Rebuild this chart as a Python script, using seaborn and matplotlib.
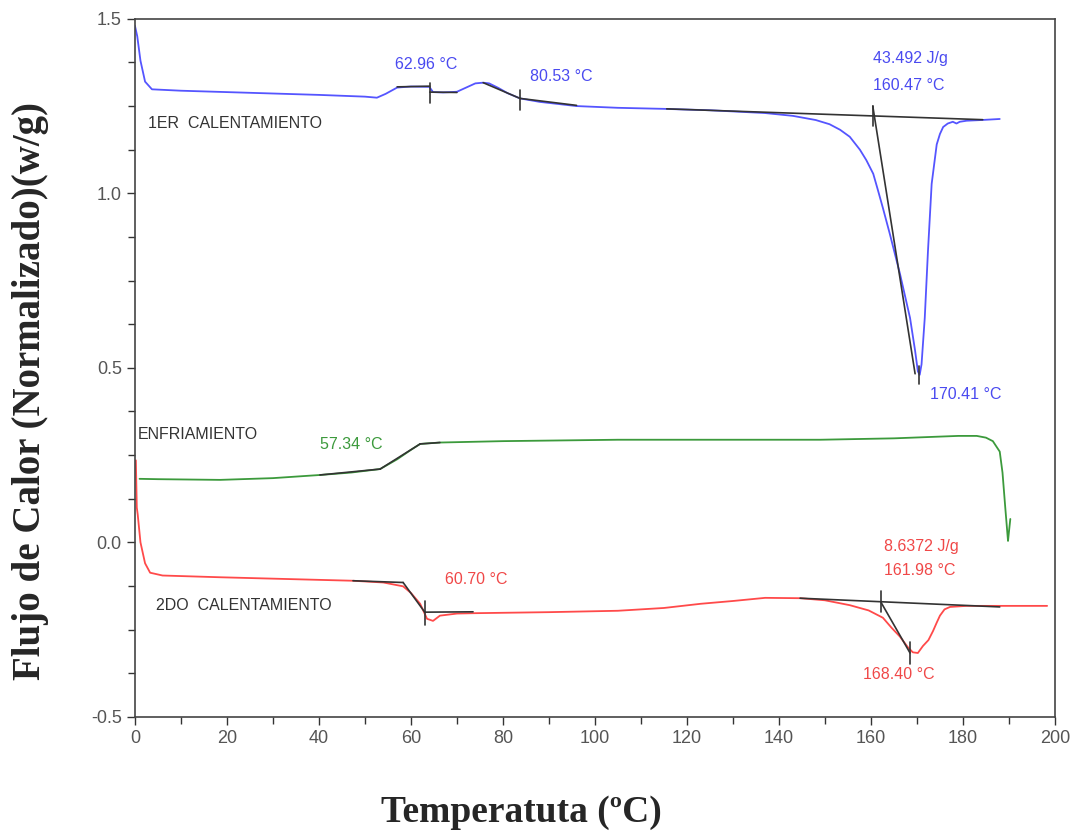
import matplotlib
matplotlib.use("Agg")
import matplotlib.pyplot as plt
import seaborn as sns
import pandas as pd
from matplotlib.ticker import MultipleLocator

# curvas DSC (temperatura, flujo de calor)
t_1er = [0.0, 0.5, 1.2, 2.2, 3.7, 10, 20, 30, 40, 50, 52.6, 54.5, 57, 60, 64, 64.8, 67, 70, 72, 74, 75.7, 77,
         79, 81, 83.7, 88, 96, 105, 115, 125, 137, 143, 148, 151, 153.3, 155.4, 157.6, 159, 160.5, 161.5, 162.6,
         164.1, 166.3, 168.5, 169.6, 170.2, 170.6, 171.0, 171.7, 172.4, 173.2, 174.3, 175.0, 175.7, 176.7,
         177.8, 178.6, 179.3, 180.8, 184, 188]
f_1er = [1.48, 1.45, 1.38, 1.32, 1.298, 1.294, 1.29, 1.286, 1.282, 1.277, 1.274, 1.285, 1.303, 1.306, 1.305,
         1.29, 1.289, 1.291, 1.303, 1.315, 1.317, 1.315, 1.302, 1.287, 1.272, 1.262, 1.25, 1.245, 1.242, 1.238,
         1.23, 1.222, 1.21, 1.198, 1.182, 1.162, 1.125, 1.095, 1.056, 1.01, 0.958, 0.884, 0.77, 0.643, 0.549,
         0.49, 0.48, 0.51, 0.643, 0.835, 1.027, 1.14, 1.17, 1.19, 1.2, 1.205, 1.2, 1.205, 1.208, 1.21, 1.213]

t_enf = [1.0, 5, 18.5, 30, 40.2, 47, 53.3, 57, 60, 62, 66.3, 80, 105, 130, 149, 165, 179, 183, 185, 186.5, 188,
         188.6, 189.2, 189.8, 190.0, 190.3]
f_enf = [0.182, 0.181, 0.179, 0.184, 0.193, 0.2, 0.21, 0.238, 0.265, 0.282, 0.286, 0.29, 0.294, 0.294, 0.294,
         0.298, 0.305, 0.305, 0.3, 0.29, 0.26, 0.2, 0.1, 0.004, 0.03, 0.067]

t_2do = [0.2, 0.4, 0.6, 1.2, 2.2, 3.3, 6, 18.5, 30, 47.4, 54, 58.3, 60, 62, 63.5, 64.8, 66.3, 70, 73.5, 90, 105,
         115, 123, 130, 137, 144.6, 150, 155.4, 159.5, 162.6, 164.5, 166.3, 168, 169.1, 170.2, 171.3, 172.5,
         173.5, 174.3, 175, 176, 177.2, 180.8, 190, 198.3]
f_2do = [0.235, 0.1, 0.08, 0.0, -0.06, -0.087, -0.095, -0.1, -0.104, -0.11, -0.115, -0.126, -0.145, -0.176,
         -0.219, -0.225, -0.21, -0.204, -0.203, -0.2, -0.196, -0.188, -0.176, -0.168, -0.159, -0.16, -0.166,
         -0.18, -0.195, -0.216, -0.245, -0.27, -0.3, -0.315, -0.317, -0.297, -0.28, -0.254, -0.23, -0.21,
         -0.192, -0.185, -0.182, -0.182, -0.182]

# lineas de analisis (tangentes / linea base), pares de puntos
tangentes = [
    ([57, 64.1], [1.305, 1.307]), ([64.1, 70], [1.29, 1.289]), ([75.7, 83.7], [1.317, 1.272]),
    ([83.7, 96], [1.272, 1.252]), ([115.6, 184.3], [1.242, 1.211]), ([160.4, 169.6], [1.25, 0.483]),
    ([40.2, 53.3], [0.193, 0.21]), ([53.3, 62], [0.21, 0.282]), ([62, 66.3], [0.282, 0.286]),
    ([47.4, 58.3], [-0.11, -0.115]), ([58.3, 63.0], [-0.115, -0.2]), ([63.0, 73.5], [-0.2, -0.199]),
    ([144.6, 188], [-0.16, -0.185]), ([162.2, 168.5], [-0.172, -0.317]),
]
marcas = [(64.1, 1.315, 1.258), (83.7, 1.295, 1.238), (160.4, 1.25, 1.192), (170.4, 0.505, 0.455),
          (63.0, -0.167, -0.237), (162.2, -0.14, -0.2), (168.5, -0.285, -0.348)]

etiquetas = [
    ("62.96 °C", 56.5, 1.37, "#4a4af0"), ("80.53 °C", 85.9, 1.335, "#4a4af0"),
    ("43.492 J/g", 160.4, 1.385, "#4a4af0"), ("160.47 °C", 160.4, 1.31, "#4a4af0"),
    ("170.41 °C", 172.8, 0.425, "#4a4af0"), ("57.34 °C", 40.3, 0.28, "#3c9a3c"),
    ("60.70 °C", 67.4, -0.105, "#f04848"), ("8.6372 J/g", 162.8, -0.012, "#f04848"),
    ("161.98 °C", 162.8, -0.082, "#f04848"), ("168.40 °C", 158.3, -0.378, "#f04848"),
    ("1ER  CALENTAMIENTO", 2.8, 1.2, "#333333"), ("ENFRIAMIENTO", 0.6, 0.308, "#333333"),
    ("2DO  CALENTAMIENTO", 4.6, -0.18, "#333333"),
]

sns.set_style("ticks")
sans = ["Liberation Sans", "DejaVu Sans"]

fig = plt.figure(figsize=(10.71, 8.36), dpi=100)
ax = fig.add_axes([0.126, 0.1425, 0.859, 0.835])

curvas = [(t_1er, f_1er, "#5555ff"), (t_enf, f_enf, "#3c9a3c"), (t_2do, f_2do, "#ff4a4a")]
for t, f, c in curvas:
    df = pd.DataFrame({"T": t, "F": f})
    sns.lineplot(data=df, x="T", y="F", color=c, lw=1.3, sort=False, estimator=None, ax=ax)

for xs, ys in tangentes:
    sns.lineplot(x=xs, y=ys, color="#333333", lw=1.2, sort=False, estimator=None, ax=ax)
for x, y0, y1 in marcas:
    sns.lineplot(x=[x, x], y=[y0, y1], color="#333333", lw=1.2, sort=False, estimator=None, ax=ax)

for txt, x, y, c in etiquetas:
    ax.text(x, y, txt, color=c, fontsize=11.5, family=sans, ha="left", va="center")

ax.set_xlim(0, 200)
ax.set_ylim(-0.5, 1.5)
ax.xaxis.set_minor_locator(MultipleLocator(10))
ax.yaxis.set_minor_locator(MultipleLocator(0.125))
ax.tick_params(which="both", direction="out", colors="#333333", labelcolor="#555555", width=1)
ax.tick_params(which="major", length=6, labelsize=13)
ax.tick_params(which="minor", length=5)
ax.set_xticks(range(0, 201, 20))
ax.set_xticklabels([str(v) for v in range(0, 201, 20)], family=sans)
ax.set_yticks([-0.5, 0.0, 0.5, 1.0, 1.5])
ax.set_yticklabels(["-0.5", "0.0", "0.5", "1.0", "1.5"], family=sans)
for s in ax.spines.values():
    s.set_color("#444444")
    s.set_linewidth(1.2)

ax.set_xlabel("Temperatuta (ºC)", family="Liberation Serif", fontweight="bold", fontsize=27, va="center")
ax.xaxis.set_label_coords(0.42, -0.1375)
ax.set_ylabel("Flujo de Calor (Normalizado)(w/g)", family="Liberation Serif", fontweight="bold",
              fontsize=28, va="center")
ax.yaxis.set_label_coords(-0.114, 0.467)

fig.savefig("out.png", dpi=100)
